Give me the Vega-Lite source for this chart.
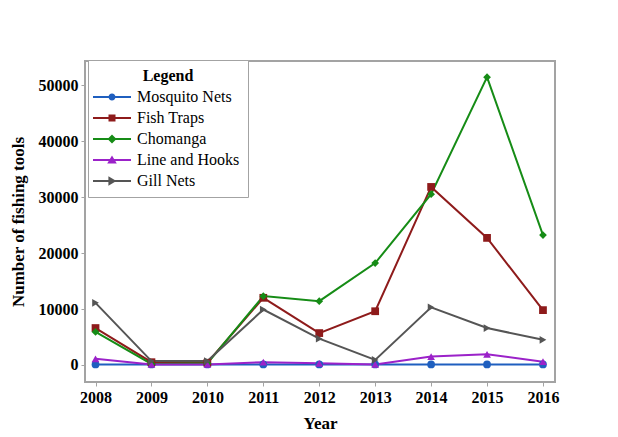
{
  "$schema": "https://vega.github.io/schema/vega-lite/v6.json",
  "width": 470,
  "height": 321,
  "autosize": {"type": "none"},
  "padding": {"left": 85, "top": 61, "right": 63, "bottom": 55},
  "background": "white",
  "config": {
    "font": "Liberation Serif",
    "view": {"stroke": "#a3a3a3", "strokeWidth": 2},
    "axis": {
      "grid": false,
      "domain": false,
      "tickColor": "#a3a3a3",
      "tickSize": 4,
      "tickWidth": 1,
      "labelFont": "Liberation Serif",
      "labelFontWeight": "bold",
      "labelFontSize": 16,
      "labelColor": "#000000",
      "titleFont": "Liberation Serif",
      "titleFontWeight": "bold",
      "titleFontSize": 17,
      "titleColor": "#000000"
    },
    "legend": {
      "title": "Legend",
      "orient": "none",
      "legendX": 3,
      "legendY": -1,
      "titleFont": "Liberation Serif",
      "titleFontWeight": "bold",
      "titleFontSize": 16,
      "titleColor": "#000000",
      "titleAnchor": "middle",
      "titlePadding": 5,
      "labelFont": "Liberation Serif",
      "labelFontSize": 16,
      "labelColor": "#000000",
      "labelOffset": 17,
      "symbolSize": 64,
      "symbolOffset": 8,
      "symbolOpacity": 1,
      "symbolStrokeWidth": 0,
      "rowPadding": 5,
      "padding": 8,
      "strokeColor": "#a3a3a3",
      "fillColor": "#ffffff"
    }
  },
  "data": {
    "values": [
      {"Year": 2008, "Tool": "Mosquito Nets", "Count": 100},
      {"Year": 2009, "Tool": "Mosquito Nets", "Count": 100},
      {"Year": 2010, "Tool": "Mosquito Nets", "Count": 100},
      {"Year": 2011, "Tool": "Mosquito Nets", "Count": 100},
      {"Year": 2012, "Tool": "Mosquito Nets", "Count": 100},
      {"Year": 2013, "Tool": "Mosquito Nets", "Count": 100},
      {"Year": 2014, "Tool": "Mosquito Nets", "Count": 100},
      {"Year": 2015, "Tool": "Mosquito Nets", "Count": 100},
      {"Year": 2016, "Tool": "Mosquito Nets", "Count": 100},
      {"Year": 2008, "Tool": "Fish Traps", "Count": 6600},
      {"Year": 2009, "Tool": "Fish Traps", "Count": 500},
      {"Year": 2010, "Tool": "Fish Traps", "Count": 400},
      {"Year": 2011, "Tool": "Fish Traps", "Count": 12000},
      {"Year": 2012, "Tool": "Fish Traps", "Count": 5700},
      {"Year": 2013, "Tool": "Fish Traps", "Count": 9600},
      {"Year": 2014, "Tool": "Fish Traps", "Count": 31800},
      {"Year": 2015, "Tool": "Fish Traps", "Count": 22700},
      {"Year": 2016, "Tool": "Fish Traps", "Count": 9800},
      {"Year": 2008, "Tool": "Chomanga", "Count": 5900},
      {"Year": 2009, "Tool": "Chomanga", "Count": 200},
      {"Year": 2010, "Tool": "Chomanga", "Count": 300},
      {"Year": 2011, "Tool": "Chomanga", "Count": 12300},
      {"Year": 2012, "Tool": "Chomanga", "Count": 11400},
      {"Year": 2013, "Tool": "Chomanga", "Count": 18200},
      {"Year": 2014, "Tool": "Chomanga", "Count": 30500},
      {"Year": 2015, "Tool": "Chomanga", "Count": 51400},
      {"Year": 2016, "Tool": "Chomanga", "Count": 23200},
      {"Year": 2008, "Tool": "Line and Hooks", "Count": 1100},
      {"Year": 2009, "Tool": "Line and Hooks", "Count": 100},
      {"Year": 2010, "Tool": "Line and Hooks", "Count": 100},
      {"Year": 2011, "Tool": "Line and Hooks", "Count": 500},
      {"Year": 2012, "Tool": "Line and Hooks", "Count": 300},
      {"Year": 2013, "Tool": "Line and Hooks", "Count": 100},
      {"Year": 2014, "Tool": "Line and Hooks", "Count": 1500},
      {"Year": 2015, "Tool": "Line and Hooks", "Count": 1900},
      {"Year": 2016, "Tool": "Line and Hooks", "Count": 600},
      {"Year": 2008, "Tool": "Gill Nets", "Count": 11100},
      {"Year": 2009, "Tool": "Gill Nets", "Count": 700},
      {"Year": 2010, "Tool": "Gill Nets", "Count": 700},
      {"Year": 2011, "Tool": "Gill Nets", "Count": 9900},
      {"Year": 2012, "Tool": "Gill Nets", "Count": 4700},
      {"Year": 2013, "Tool": "Gill Nets", "Count": 900},
      {"Year": 2014, "Tool": "Gill Nets", "Count": 10300},
      {"Year": 2015, "Tool": "Gill Nets", "Count": 6600},
      {"Year": 2016, "Tool": "Gill Nets", "Count": 4500}
    ]
  },
  "encoding": {
    "x": {
      "field": "Year",
      "type": "quantitative",
      "scale": {"domain": [2007.812, 2016.215], "nice": false, "zero": false},
      "axis": {"values": [2008, 2009, 2010, 2011, 2012, 2013, 2014, 2015, 2016], "format": "d", "labelPadding": 3, "titleY": 46, "titleBaseline": "alphabetic", "title": "Year"}
    },
    "y": {
      "field": "Count",
      "type": "quantitative",
      "scale": {"domain": [-3036, 54290], "nice": false, "zero": false},
      "axis": {"values": [0, 10000, 20000, 30000, 40000, 50000], "format": "d", "labelPadding": 3, "titlePadding": 11, "title": "Number of fishing tools"}
    }
  },
  "layer": [
    {
      "mark": {"type": "line", "strokeWidth": 2},
      "encoding": {
        "color": {
          "field": "Tool",
          "type": "nominal",
          "scale": {
            "domain": ["Mosquito Nets", "Fish Traps", "Chomanga", "Line and Hooks", "Gill Nets"],
            "range": ["#1f5fbf", "#8e1b1b", "#168c16", "#9b22c9", "#555555"]
          },
          "legend": null
        }
      }
    },
    {
      "mark": {"type": "point", "filled": true, "size": 60, "opacity": 1},
      "encoding": {
        "color": {
          "field": "Tool",
          "type": "nominal",
          "scale": {
            "domain": ["Mosquito Nets", "Fish Traps", "Chomanga", "Line and Hooks", "Gill Nets"],
            "range": ["#1f5fbf", "#8e1b1b", "#168c16", "#9b22c9", "#555555"]
          },
          "legend": null
        },
        "shape": {
          "field": "Tool",
          "type": "nominal",
          "scale": {
            "domain": ["Mosquito Nets", "Fish Traps", "Chomanga", "Line and Hooks", "Gill Nets"],
            "range": ["circle", "square", "diamond", "triangle-up", "triangle-right"]
          },
          "legend": null
        }
      }
    },
    {
      "mark": {"type": "point", "filled": true, "size": 64, "opacity": 0},
      "encoding": {
        "color": {
          "field": "Tool",
          "type": "nominal",
          "title": "Legend",
          "scale": {
            "domain": ["Mosquito Nets", "Fish Traps", "Chomanga", "Line and Hooks", "Gill Nets"],
            "range": ["#1f5fbf", "#8e1b1b", "#168c16", "#9b22c9", "#555555"]
          }
        },
        "shape": {
          "field": "Tool",
          "type": "nominal",
          "title": "Legend",
          "scale": {
            "domain": ["Mosquito Nets", "Fish Traps", "Chomanga", "Line and Hooks", "Gill Nets"],
            "range": [
              "M-4.75,-0.25H4.75V0.25H-4.75Z M-0.875,0A0.875,0.875,0,1,1,0.875,0A0.875,0.875,0,1,1,-0.875,0Z",
              "M-4.75,-0.25H4.75V0.25H-4.75Z M-0.875,-0.875H0.875V0.875H-0.875Z",
              "M-4.75,-0.25H4.75V0.25H-4.75Z M0,-1.125L1.125,0L0,1.125L-1.125,0Z",
              "M-4.75,-0.25H4.75V0.25H-4.75Z M0,-1.1L1.2,0.9H-1.2Z",
              "M-4.75,-0.25H4.75V0.25H-4.75Z M1.1,0L-0.9,1.2V-1.2Z"
            ]
          }
        }
      }
    }
  ],
  "resolve": {"scale": {"shape": "independent", "color": "independent"}}
}
